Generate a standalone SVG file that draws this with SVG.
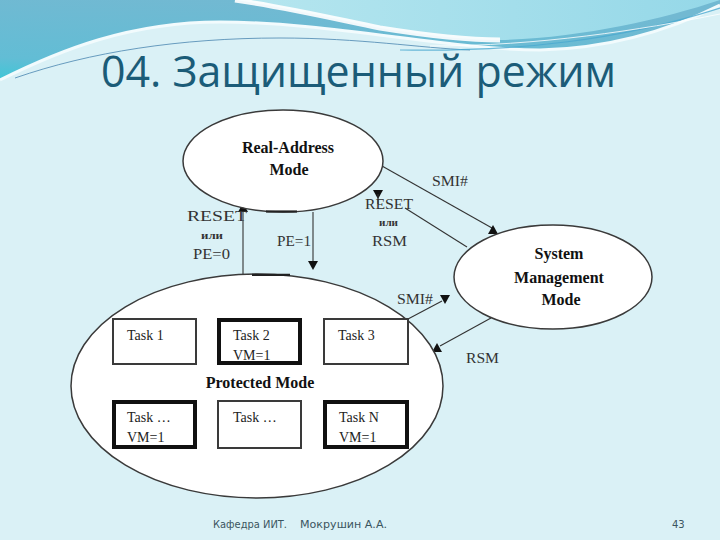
<svg xmlns="http://www.w3.org/2000/svg" width="720" height="540" viewBox="0 0 720 540">
<defs>
<linearGradient id="gBlue" x1="0" y1="1" x2="0.35" y2="0">
<stop offset="0" stop-color="#3ec7d7"/>
<stop offset="0.25" stop-color="#62bdd5"/>
<stop offset="1" stop-color="#72b9d2"/>
</linearGradient>
<linearGradient id="gPale" x1="0" y1="0" x2="1" y2="0">
<stop offset="0" stop-color="#b6e6ef"/>
<stop offset="1" stop-color="#95d8e8"/>
</linearGradient>
<path id="up" d="M0,-5 L5,4 L-5,4 Z"/>
<path id="down" d="M0,5 L5,-4 L-5,-4 Z"/>
<style>
.ell{fill:#fff;stroke:#3a3a3a;stroke-width:1.5}
.ln{stroke:#333;stroke-width:1.1;fill:none}
.ah{fill:#111}
.bt{fill:#fff;stroke:#3a3a3a;stroke-width:2}
.bk{fill:#fff;stroke:#111;stroke-width:4}
.lbl{font-family:"Liberation Serif","Times New Roman",serif;font-size:14px;fill:#333}
.sm{font-family:"Liberation Serif","Times New Roman",serif;font-size:10px;font-weight:bold;fill:#333}
.nt{font-family:"Liberation Serif","Times New Roman",serif;font-size:16px;font-weight:bold;fill:#111;text-anchor:middle}
.tk{font-family:"Liberation Serif","Times New Roman",serif;font-size:14px;fill:#222}
.ft{font-family:"DejaVu Sans","Liberation Sans",sans-serif;font-size:10px;fill:#3a5560}
</style>
</defs>
<rect width="720" height="540" fill="#daf1f6"/>
<g id="banner">
<path d="M0,0 H720 V5 C680,25 620,48 540,50 C450,50 330,22 220,22 C130,22 60,50 0,80 Z" fill="url(#gBlue)"/>
<path d="M235,0 C290,8 340,20 380,28 C430,36 470,40 500,40 C580,38 660,20 720,0 Z" fill="url(#gPale)"/>
<path d="M235,0 C290,8 340,20 380,28 C430,36 470,40 500,40" stroke="#fff" stroke-width="5" fill="none" opacity="0.9"/>
<path d="M0,80 C60,50 130,22 220,22 C330,22 450,50 540,50 C620,48 680,25 720,5" stroke="#f2fbfd" stroke-width="3" fill="none"/>
<path d="M15,78 C90,52 180,38 280,38 C360,38 420,48 470,50" stroke="#4a86b0" stroke-width="1" fill="none" opacity="0.8"/>
<path d="M400,50 C520,52 620,40 720,8" stroke="#4aa9cf" stroke-width="1.2" fill="none" opacity="0.8"/>
<path d="M430,46 C540,46 640,30 720,14" stroke="#ffffff" stroke-width="1" fill="none" opacity="0.8"/>
</g>
<text id="title" x="101" y="87" font-family="'Open Sans','Noto Sans',sans-serif" font-size="43" fill="#1b5c78" textLength="515" lengthAdjust="spacingAndGlyphs">04. Защищенный режим</text>
<g id="connectors">
<line class="ln" x1="243" y1="211" x2="243" y2="276"/>
<use href="#up" class="ah" x="243" y="208"/>
<line class="ln" x1="313" y1="212" x2="313" y2="264"/>
<use href="#down" class="ah" x="313" y="265"/>
<line class="ln" x1="382" y1="166" x2="492" y2="228"/>
<use href="#up" class="ah" x="493" y="230"/>
<line class="ln" x1="467" y1="247" x2="405" y2="208"/>
<use href="#down" class="ah" x="378" y="194"/>
<line class="ln" x1="378" y1="194" x2="378" y2="204"/>
<line class="ln" x1="408" y1="319" x2="442" y2="301"/>
<use href="#down" class="ah" x="445" y="299"/>
<line class="ln" x1="491" y1="318" x2="440" y2="346"/>
<use href="#up" class="ah" x="437" y="348"/>
<text class="lbl" x="187" y="221" textLength="60" lengthAdjust="spacingAndGlyphs">RESET</text>
<text class="sm" x="201" y="239" textLength="22" lengthAdjust="spacingAndGlyphs">или</text>
<text class="lbl" x="193" y="259" textLength="37" lengthAdjust="spacingAndGlyphs">PE=0</text>
<text class="lbl" x="277" y="246" textLength="34" lengthAdjust="spacingAndGlyphs">PE=1</text>
<text class="lbl" x="365" y="209" textLength="48" lengthAdjust="spacingAndGlyphs">RESET</text>
<text class="sm" x="379" y="226" textLength="19" lengthAdjust="spacingAndGlyphs">или</text>
<text class="lbl" x="372" y="246" textLength="35" lengthAdjust="spacingAndGlyphs">RSM</text>
<text class="lbl" x="432" y="186" textLength="36" lengthAdjust="spacingAndGlyphs">SMI#</text>
<text class="lbl" x="397" y="304" textLength="36" lengthAdjust="spacingAndGlyphs">SMI#</text>
<text class="lbl" x="466" y="363" textLength="33" lengthAdjust="spacingAndGlyphs">RSM</text>
</g>
<g id="real-address">
<ellipse class="ell" cx="283" cy="161" rx="100" ry="51"/>
<line x1="266" y1="211.5" x2="297" y2="211.5" stroke="#222" stroke-width="2.2"/>
<text class="nt" x="288" y="153">Real-Address</text>
<text class="nt" x="289" y="175">Mode</text>
</g>
<g id="smm">
<ellipse class="ell" cx="553" cy="277" rx="99" ry="52"/>
<text class="nt" x="559" y="259">System</text>
<text class="nt" x="559" y="283">Management</text>
<text class="nt" x="561" y="305">Mode</text>
</g>
<g id="protected">
<ellipse class="ell" cx="257" cy="386" rx="186" ry="112"/>
<line x1="252" y1="274.8" x2="290" y2="274.8" stroke="#222" stroke-width="2.2"/>
<text class="nt" x="260" y="388" font-size="15">Protected Mode</text>
</g>
<g id="task1"><rect class="bt" x="113" y="319" width="83" height="45"/><text class="tk" x="127" y="340">Task 1</text></g>
<g id="task2"><rect class="bk" x="219" y="320" width="81" height="43"/><text class="tk" x="233" y="340">Task 2</text><text class="tk" x="233" y="360">VM=1</text></g>
<g id="task3"><rect class="bt" x="324" y="319" width="84" height="45"/><text class="tk" x="338" y="340">Task 3</text></g>
<g id="task4"><rect class="bk" x="114" y="402" width="81" height="45"/><text class="tk" x="127" y="422">Task …</text><text class="tk" x="127" y="442">VM=1</text></g>
<g id="task5"><rect class="bt" x="218" y="401" width="83" height="47"/><text class="tk" x="233" y="422">Task …</text></g>
<g id="taskN"><rect class="bk" x="325" y="402" width="82" height="45"/><text class="tk" x="339" y="422">Task N</text><text class="tk" x="339" y="442">VM=1</text></g>
<g id="footer">
<text class="ft" x="213" y="528" textLength="74" lengthAdjust="spacingAndGlyphs">Кафедра ИИТ.</text>
<text class="ft" x="300" y="528" textLength="87" lengthAdjust="spacingAndGlyphs">Мокрушин А.А.</text>
<text class="ft" x="672" y="528">43</text>
</g>
</svg>
